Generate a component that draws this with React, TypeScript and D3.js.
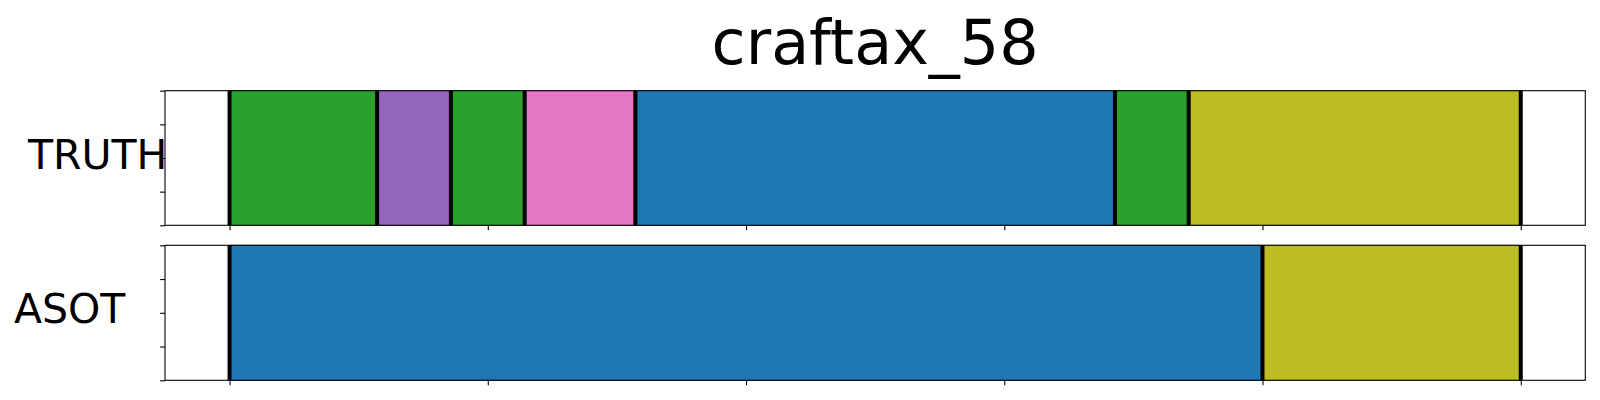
import React, { useRef, useEffect } from 'react';
import * as d3 from 'd3';

// segment boundaries (frames) and tab10 colour index per segment
const truthBounds = [0, 40, 60, 80, 110, 240, 260, 350];
const truthLabels = [2, 4, 2, 6, 0, 2, 8];
const asotBounds = [0, 280, 350];
const asotLabels = [0, 8];
const xTicks = [0, 70, 140, 210, 280, 350];
const yTicks = [0, 0.25, 0.5, 0.75, 1];
const rowNames = ['TRUTH', 'ASOT'];
const title = 'craftax_58';

const width = 1600;
const height = 400;

const App = () => {
  const ref = useRef<SVGSVGElement | null>(null);

  useEffect(() => {
    if (!ref.current) return;
    const svg = d3.select(ref.current);
    svg.selectAll('*').remove();

    const font = 'DejaVu Sans, sans-serif';
    const left = 165;
    const right = 1585.3;
    const panels = [
      { top: 90.7, bottom: 225.3, bounds: truthBounds, labels: truthLabels, name: rowNames[0], lx: 28, ly: 169.3 },
      { top: 245.3, bottom: 380.3, bounds: asotBounds, labels: asotLabels, name: rowNames[1], lx: 14, ly: 322.7 },
    ];

    const maxX = d3.max([...truthBounds, ...asotBounds]) as number;
    const pad = maxX * 0.05;
    const x = d3.scaleLinear().domain([-pad, maxX + pad]).range([left, right]);
    const color = d3.scaleOrdinal<number, string>().domain(d3.range(10)).range(d3.schemeCategory10);

    svg
      .append('text')
      .attr('x', (left + right) / 2)
      .attr('y', 64)
      .attr('text-anchor', 'middle')
      .style('font-family', font)
      .style('font-size', '62px')
      .text(title);

    panels.forEach((p) => {
      const y = d3.scaleLinear().domain([0, 1]).range([p.bottom, p.top]);
      const g = svg.append('g');

      const segs = p.labels.map((l, i) => ({ l, x0: p.bounds[i], x1: p.bounds[i + 1] }));
      g.selectAll('rect.seg')
        .data(segs)
        .join('rect')
        .attr('class', 'seg')
        .attr('x', (d) => x(d.x0))
        .attr('y', y(1))
        .attr('width', (d) => x(d.x1) - x(d.x0))
        .attr('height', y(0) - y(1))
        .attr('fill', (d) => color(d.l))
        .attr('stroke', (d) => d3.color(color(d.l))!.darker(0.6).toString())
        .attr('stroke-width', 1);

      g.selectAll('line.bound')
        .data(p.bounds)
        .join('line')
        .attr('class', 'bound')
        .attr('x1', (d) => x(d))
        .attr('x2', (d) => x(d))
        .attr('y1', y(0))
        .attr('y2', y(1))
        .attr('stroke', '#000')
        .attr('stroke-width', 4);

      g.append('g')
        .attr('transform', `translate(${left},0)`)
        .call(d3.axisLeft(y).tickValues(yTicks).tickFormat(() => '').tickSize(4.9))
        .call((a) => a.select('.domain').remove())
        .call((a) => a.selectAll('line').attr('stroke-width', 1.1));

      g.append('g')
        .attr('transform', `translate(0,${p.bottom})`)
        .call(d3.axisBottom(x).tickValues(xTicks).tickFormat(() => '').tickSize(4.9))
        .call((a) => a.select('.domain').remove())
        .call((a) => a.selectAll('line').attr('stroke-width', 1.1));

      g.append('rect')
        .attr('x', left)
        .attr('y', p.top)
        .attr('width', right - left)
        .attr('height', p.bottom - p.top)
        .attr('fill', 'none')
        .attr('stroke', '#000')
        .attr('stroke-width', 1.1);

      svg
        .append('text')
        .attr('x', p.lx)
        .attr('y', p.ly)
        .style('font-family', font)
        .style('font-size', '41px')
        .text(p.name);
    });
  });

  return (
    <svg
      ref={ref}
      width={width}
      height={height}
      viewBox={`0 0 ${width} ${height}`}
      style={{ position: 'absolute', left: 0, top: 0, background: '#fff' }}
    />
  );
};

export default App;
